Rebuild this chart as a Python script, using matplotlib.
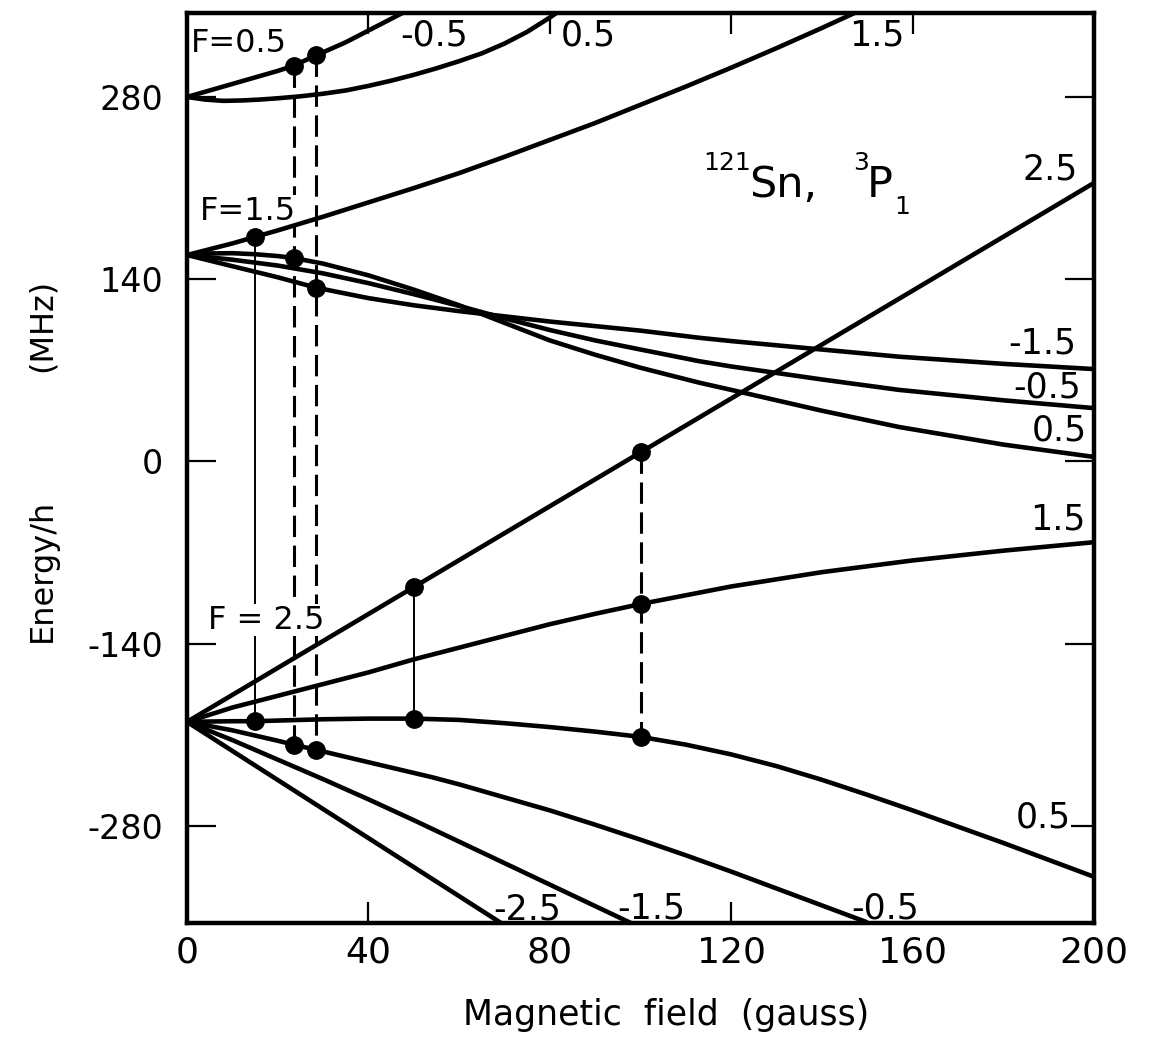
import numpy as np
import matplotlib
matplotlib.use("Agg")
import matplotlib.pyplot as plt

plt.rcParams["font.family"] = ["DejaVu Sans"]
plt.rcParams["axes.unicode_minus"] = False
plt.rcParams["mathtext.default"] = "regular"

# ---- Zeeman levels of 121Sn 3P1: field (gauss) and energy/h (MHz) ----
# F = 0.5 manifold
f05_mneg05_B = [0, 5, 10, 15, 20, 23.5, 28.5, 35, 40, 45, 50]
f05_mneg05_E = [280, 285, 290, 295, 300, 304, 312, 322, 331, 340, 349]
f05_mpos05_B = [0, 4, 8, 12, 16, 20, 25, 30, 35, 40, 45, 50, 55, 60, 65, 70, 75, 80, 85]
f05_mpos05_E = [280, 278, 277, 277.3, 278, 279, 280.5, 282.5, 285, 288.5, 292.5, 297,
                302, 307.5, 313.5, 321, 330, 341, 353]

# F = 1.5 manifold
f15_mpos15_B = [0, 10, 15, 20, 30, 40, 50, 60, 70, 80, 90, 100, 110, 120, 130, 140, 150]
f15_mpos15_E = [158.6, 167.5, 172.5, 177.5, 188, 199, 210, 221.5, 234, 247, 260, 274,
                288, 302.5, 317.5, 333, 349]
f15_mpos05_B = [0, 5, 10, 15, 20, 23.5, 30, 40, 50, 60, 70, 80, 90, 100, 113, 120, 140,
                157, 180, 200]
f15_mpos05_E = [158.6, 159.8, 160, 159.2, 157.8, 156.3, 152, 143, 132, 120, 106.5, 93,
                82, 72, 60.5, 55, 39, 26.5, 13, 3.5]
f15_mneg05_B = [0, 10, 20, 30, 40, 50, 60, 70, 80, 90, 100, 113, 120, 140, 157, 180, 200]
f15_mneg05_E = [158.6, 155, 150.5, 144.5, 137, 128.5, 119.5, 110, 101, 93, 86, 77, 73,
                63, 55, 47, 41]
f15_mneg15_B = [0, 10, 20, 28.5, 40, 50, 60, 70, 80, 90, 100, 113, 120, 140, 157, 180, 200]
f15_mneg15_E = [158.6, 150, 141.5, 133.5, 125.5, 120, 115.5, 111.5, 107.5, 104, 100.5,
                95, 92.5, 86, 80.5, 75, 71]

# F = 2.5 manifold
f25_mpos25_B = [0, 50, 100, 200]
f25_mpos25_E = [-200, -96.5, 7, 214]
f25_mpos15_B = [0, 10, 20, 30, 40, 50, 60, 70, 80, 90, 100, 120, 140, 160, 180, 200]
f25_mpos15_E = [-200, -189, -180, -171, -162, -152, -143, -134, -125, -117, -109.5, -96,
                -85, -76, -68.5, -62]
f25_mpos05_B = [0, 10, 15, 20, 30, 40, 50, 60, 70, 80, 90, 100, 110, 120, 130, 140, 150,
                160, 170, 180, 190, 200]
f25_mpos05_E = [-200, -199.5, -199.5, -199, -198, -197.5, -197.5, -198.5, -201, -204,
                -207.5, -211.5, -217.5, -225, -234, -244.5, -256, -268, -280.5, -293,
                -306, -319]
f25_mneg05_B = [0, 10, 20, 23.5, 28.5, 40, 54, 60, 70, 80, 90, 100, 110, 120, 130, 140, 150]
f25_mneg05_E = [-200, -206.5, -214.5, -217.5, -221.5, -231, -242.5, -248, -258, -268,
                -279, -290.5, -302.5, -315, -328, -341, -354]
f25_mneg15_B = [0, 10, 20, 30, 40, 50, 60, 70, 80, 90, 100]
f25_mneg15_E = [-200, -214, -229, -244, -259.5, -275.5, -292, -308.5, -325, -341.5, -358]
f25_mneg25_B = [0, 80]
f25_mneg25_E = [-200, -378.5]

levels = {
    "05-05": (f05_mneg05_B, f05_mneg05_E),
    "05+05": (f05_mpos05_B, f05_mpos05_E),
    "15+15": (f15_mpos15_B, f15_mpos15_E),
    "15+05": (f15_mpos05_B, f15_mpos05_E),
    "15-05": (f15_mneg05_B, f15_mneg05_E),
    "15-15": (f15_mneg15_B, f15_mneg15_E),
    "25+25": (f25_mpos25_B, f25_mpos25_E),
    "25+15": (f25_mpos15_B, f25_mpos15_E),
    "25+05": (f25_mpos05_B, f25_mpos05_E),
    "25-05": (f25_mneg05_B, f25_mneg05_E),
    "25-15": (f25_mneg15_B, f25_mneg15_E),
    "25-25": (f25_mneg25_B, f25_mneg25_E),
}

# observed transitions: field, levels joined, line style
transitions = [
    (15, ["15+15", "25+05"], "solid"),
    (23.5, ["05-05", "15+05", "25-05"], "dashed"),
    (28.5, ["05-05", "15-15", "25-05"], "dashed"),
    (50, ["25+25", "25+05"], "solid"),
    (100, ["25+25", "25+15", "25+05"], "dashed"),
]

# m_F labels at the ends of the curves: text, field, energy
mf_labels = [
    ("-0.5", 54.5, 327), ("0.5", 88.5, 327.5), ("1.5", 152, 327),
    ("2.5", 190.3, 224), ("-1.5", 188.5, 90.6), ("-0.5", 189.6, 56.8),
    ("0.5", 192.3, 23.8), ("1.5", 192, -44.5), ("0.5", 188.8, -273.5),
    ("-2.5", 75, -344.5), ("-1.5", 102.4, -343.7), ("-0.5", 154, -343),
]
f_labels = [("F=0.5", 0.8, 320.7), ("F=1.5", 2.9, 192.4), ("F = 2.5", 4.6, -121.8)]

# title pieces: text, field of left edge, baseline energy, size
title_parts = [
    ("121", 113.9, 224, 18), ("Sn,", 124, 203, 31),
    ("3", 146.9, 224, 18), ("P", 149.8, 203, 31), ("1", 156.0, 190, 18),
]

x_ticks = [0, 40, 80, 120, 160, 200]
y_ticks = [-280, -140, 0, 140, 280]


def level_energy(key, b):
    bs, es = levels[key]
    return es[bs.index(b)]


W, H = 1151, 1043
fig = plt.figure(figsize=(W / 100, H / 100), dpi=100)
ax = fig.add_axes([187 / W, 1 - 923 / H, (1094 - 187) / W, (923 - 13) / H])

for key, (bs, es) in levels.items():
    ax.plot(bs, es, color="black", lw=3.3, solid_capstyle="butt", zorder=3)

for b, keys, style in transitions:
    es = [level_energy(k, b) for k in keys]
    if style == "solid":
        ax.plot([b, b], [max(es), min(es)], color="black", lw=1.4, zorder=2)
    else:
        ax.plot([b, b], [max(es), min(es)], color="black", lw=2.2,
                linestyle=(0, (7, 2.8)), zorder=2)
    ax.plot([b] * len(es), es, "o", color="black", ms=12.5, zorder=4)

for txt, b, e in mf_labels:
    ax.text(b, e, txt, fontsize=25, ha="center", va="center", zorder=2.7,
            bbox=dict(facecolor="white", edgecolor="none", pad=0.0))
for txt, b, e in f_labels:
    ax.text(b, e, txt, fontsize=23, ha="left", va="center", zorder=2.7,
            bbox=dict(facecolor="white", edgecolor="none", pad=0.5))

for txt, b, e, size in title_parts:
    ax.text(b, e, txt, fontsize=size, ha="left", va="baseline", zorder=5)

ax.set_xlim(0, 200)
ax.set_ylim(-354.5, 344.5)
ax.set_xticks(x_ticks)
ax.set_xticklabels([str(v) for v in x_ticks])
ax.set_yticks(y_ticks)
ax.set_yticklabels([str(v) for v in y_ticks])
ax.tick_params(axis="x", direction="in", length=15, width=1.6, top=True,
               labelsize=26, pad=9)
ax.tick_params(axis="y", direction="in", length=21, width=1.6, right=True,
               labelsize=24, pad=17)
for sp in ax.spines.values():
    sp.set_linewidth(3.2)
    sp.set_zorder(3.5)

fig.text(666 / W, 1 - 1015 / H, "Magnetic  field  (gauss)", fontsize=25,
         ha="center", va="center")
fig.text(42 / W, 1 - 570 / H, "Energy/h", fontsize=23,
         ha="center", va="center", rotation=90)
fig.text(42 / W, 1 - 325 / H, "(MHz)", fontsize=23,
         ha="center", va="center", rotation=90)

fig.savefig("out.png", dpi=100, facecolor="white")
